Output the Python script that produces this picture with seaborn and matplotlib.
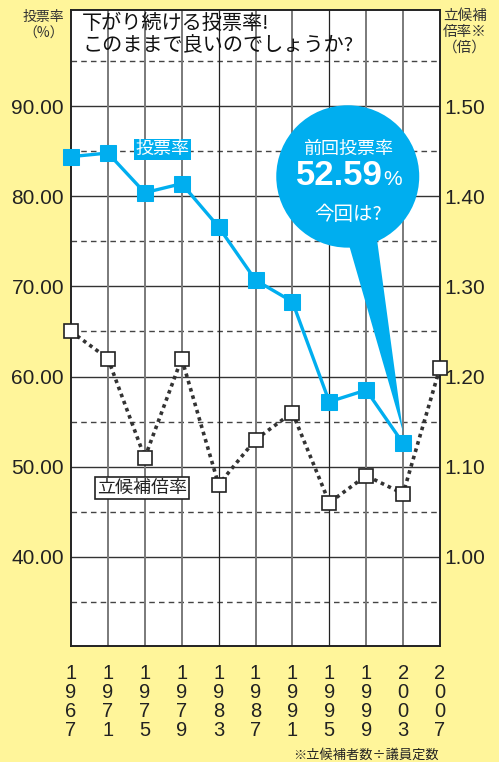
import matplotlib
matplotlib.use('Agg')
import matplotlib.pyplot as plt
import seaborn as sns
from matplotlib.patches import Ellipse, Polygon

# election years and values
years = [1967, 1971, 1975, 1979, 1983, 1987, 1991, 1995, 1999, 2003, 2007]
turnout_years = years[:-1]
turnout = [84.4, 84.8, 80.4, 81.4, 76.6, 70.7, 68.3, 57.2, 58.5, 52.59]
ratio = [1.25, 1.22, 1.11, 1.22, 1.08, 1.13, 1.16, 1.06, 1.09, 1.07, 1.21]
left_ticks = [40, 50, 60, 70, 80, 90]
half_ticks = [35, 45, 55, 65, 75, 85, 95]
right_ticks = [1.00, 1.10, 1.20, 1.30, 1.40, 1.50]

blue = '#00AEEF'
yellow = '#FFF59A'
num_font = 'Liberation Sans'

sns.set_style('white')
plt.rcParams['font.family'] = ['Noto Sans CJK JP', 'DejaVu Sans']

fig = plt.figure(figsize=(4.99, 7.62), dpi=100, facecolor=yellow)
ax = fig.add_axes([71 / 499, 1 - 646 / 762, 369 / 499, 636 / 762])
ax.set_facecolor('white')
ylo, yhi = 30.1, 100.67
ax.set_xlim(1967, 2007)
ax.set_ylim(ylo, yhi)

# grid
for v in left_ticks:
    ax.axhline(v, color='#333333', lw=1.0, zorder=1)
for v in half_ticks:
    ax.axhline(v, color='#444444', lw=1.0, ls=(0, (4, 3)), zorder=1)
for yr in years[1:-1]:
    if yr in (1983, 1995):
        ax.axvline(yr, color='#222222', lw=0.9, zorder=1)
    else:
        ax.axvline(yr, color='#7a7a7a', lw=1.4, zorder=1)

for s in ax.spines.values():
    s.set_color('#222222')
    s.set_linewidth(1.4)

# callout bubble
ax.add_patch(Ellipse((1997, 82.2), 15.5, 15.8, color=blue, zorder=3, lw=0))
ax.add_patch(Polygon([(1996.6, 76.5), (2000.0, 76.5), (2003, turnout[-1] + 1.2)],
                     closed=True, color=blue, zorder=3, lw=0))
ax.text(1997, 85.3, '前回投票率', color='white', fontsize=13, ha='center', va='center', zorder=6)
ax.text(2000.8, 82.3, '52.59', color='white', fontsize=25, family=num_font, weight='bold',
        ha='right', va='center', zorder=6)
ax.text(2000.9, 81.9, '%', color='white', fontsize=15, family=num_font,
        ha='left', va='center', zorder=6)
ax.text(1997, 78.0, '今回は?', color='white', fontsize=14, ha='center', va='center', zorder=6)

# turnout line
sns.lineplot(x=turnout_years, y=turnout, ax=ax, color=blue, lw=2.4, marker='s',
             markersize=12, markeredgecolor=blue, clip_on=False, zorder=5)

ax.text(1976.9, 85.2, '投票率', color='white', fontsize=13, ha='center', va='center', zorder=6,
        bbox=dict(boxstyle='square,pad=0.1', fc=blue, ec='none'))
ax.text(1974.7, 47.6, '立候補倍率', color='#222222', fontsize=13, ha='center', va='center', zorder=6,
        bbox=dict(boxstyle='square,pad=0.1', fc='white', ec='#222222', lw=1.2))

ax.text(0.03, 0.995, '下がり続ける投票率!\nこのままで良いのでしょうか?', transform=ax.transAxes,
        fontsize=14.5, ha='left', va='top', color='#111111', linespacing=1.05, zorder=6)

# ticks
ax.set_yticks(left_ticks, labels=[f'{v:.2f}' for v in left_ticks])
ax.set_xticks(years, labels=['\n'.join(str(y)) for y in years])
ax.tick_params(axis='y', length=0, pad=5, labelsize=15, labelcolor='#222222')
ax.tick_params(axis='x', length=0, pad=13, labelsize=14.5, labelcolor='#222222')
for lbl in ax.get_yticklabels():
    lbl.set_family(num_font)
for lbl in ax.get_xticklabels():
    lbl.set_family(num_font)
    lbl.set_linespacing(1.0)
ax.set_xlabel('')
ax.set_ylabel('')

# ratio on right axis
ax2 = ax.twinx()
ax2.set_ylim(1 + (ylo - 40) / 100, 1 + (yhi - 40) / 100)
sns.lineplot(x=years, y=ratio, ax=ax2, color='#333333', lw=2.6, ls=(0, (1, 1.1)),
             marker='s', markersize=10.5, markerfacecolor='white', markeredgecolor='#222222',
             markeredgewidth=1.2, clip_on=False, zorder=5)
ax2.set_yticks(right_ticks, labels=[f'{v:.2f}' for v in right_ticks])
ax2.tick_params(axis='y', length=0, pad=3, labelsize=15, labelcolor='#222222')
for lbl in ax2.get_yticklabels():
    lbl.set_family(num_font)
ax2.set_ylabel('')
for s in ax2.spines.values():
    s.set_visible(False)

# axis titles and note
fig.text(64 / 499, 1 - 10 / 762, '投票率\n（%）', fontsize=10, ha='right', va='top',
         color='#333333', linespacing=1.2)
fig.text(443 / 499, 1 - 9 / 762, '立候補\n倍率※\n（倍）', fontsize=10.5, ha='left', va='top',
         color='#333333', linespacing=1.15)
fig.text(439 / 499, 1 - 755 / 762, '※立候補者数÷議員定数', fontsize=9.5, ha='right', va='center',
         color='#222222')

fig.savefig('out.png', dpi=100, facecolor=yellow)
